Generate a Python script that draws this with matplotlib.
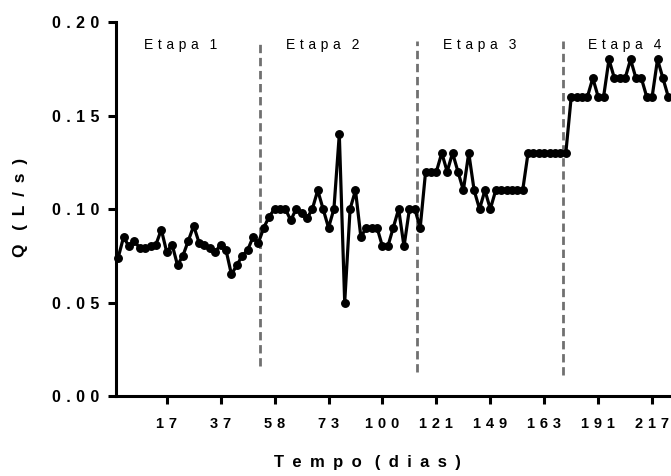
import numpy as np
import matplotlib
matplotlib.use("Agg")
import matplotlib.pyplot as plt

plt.rcParams['font.family'] = ['Liberation Sans', 'DejaVu Sans']

# flow readings, one per sampling day (plotted in order)
q = [0.074, 0.085, 0.080, 0.083, 0.079, 0.079, 0.080, 0.081, 0.089, 0.077,
     0.081, 0.070, 0.075, 0.083, 0.091, 0.082, 0.081, 0.079, 0.077, 0.081,
     0.078, 0.065, 0.070, 0.075, 0.078, 0.085, 0.082,
     0.090, 0.096, 0.100, 0.100, 0.100, 0.094, 0.100, 0.098, 0.095, 0.100,
     0.110, 0.100, 0.090, 0.100, 0.140, 0.050, 0.100, 0.110, 0.085, 0.090,
     0.090, 0.090, 0.080, 0.080, 0.090, 0.100, 0.080, 0.100, 0.100,
     0.090, 0.120, 0.120, 0.120, 0.130, 0.120, 0.130, 0.120, 0.110, 0.130,
     0.110, 0.100, 0.110, 0.100, 0.110, 0.110, 0.110, 0.110, 0.110, 0.110,
     0.130, 0.130, 0.130, 0.130, 0.130, 0.130, 0.130, 0.130,
     0.160, 0.160, 0.160, 0.160, 0.170, 0.160, 0.160, 0.180, 0.170, 0.170,
     0.170, 0.180, 0.170, 0.170, 0.160, 0.160, 0.180, 0.170, 0.160]

day_ticks = [9, 19, 29, 39, 49, 59, 69, 79, 89, 99]
day_labels = ['17', '37', '58', '73', '100', '121', '149', '163', '191', '217']

stage_names = ['Etapa 1', 'Etapa 2', 'Etapa 3', 'Etapa 4']
stage_centers = [11.5, 38.0, 67.0, 94.0]
stage_breaks = [26.3, 55.4, 82.4]
break_bottoms = [0.016, 0.013, 0.011]


def spaced(s, gap='\u2004', word_gap='\u2002 '):
    # wide letter spacing, Prism style
    return word_gap.join(gap.join(w) for w in s.split(' '))


fig = plt.figure(figsize=(6.71, 4.76), dpi=100)
ax = fig.add_axes([0.1729, 0.168, 0.8271, 0.7857])

x = np.arange(len(q))
ax.plot(x, q, color='black', lw=2.3, marker='o', ms=5.4, zorder=3, clip_on=False)

for xb, yb in zip(stage_breaks, break_bottoms):
    ax.plot([xb, xb], [yb, 0.19], color='#707070', lw=2.0,
            dashes=(3.0, 1.7), zorder=2)

for name, xc in zip(stage_names, stage_centers):
    ax.text(xc, 0.1877, spaced(name), ha='center', va='center', fontsize=10)

ax.set_xlim(-0.4, 102.5)
ax.set_ylim(0, 0.2)
yt = np.arange(0, 0.201, 0.05)
ax.set_yticks(yt)
ax.set_yticklabels([spaced(f'{v:.2f}') for v in yt], fontsize=11.5, fontweight='bold')
ax.set_xticks(day_ticks)
ax.set_xticklabels([spaced(s) for s in day_labels], fontsize=10.5, fontweight='bold')

for side in ['top', 'right']:
    ax.spines[side].set_visible(False)
for side in ['left', 'bottom']:
    ax.spines[side].set_linewidth(2.2)
ax.tick_params(axis='both', width=2.2, length=6, color='black', pad=9)
ax.tick_params(axis='y', pad=6)

ax.set_xlabel(spaced('Tempo (dias)', '\u2002'), fontsize=12, fontweight='bold')
ax.xaxis.set_label_coords((367 - 116) / 555, -0.158)
ax.set_ylabel(spaced('Q (L/s)', '\u2002'), fontsize=12.5, fontweight='bold')
ax.yaxis.set_label_coords(-0.159, 0.503)

fig.savefig('out.png', dpi=100)
